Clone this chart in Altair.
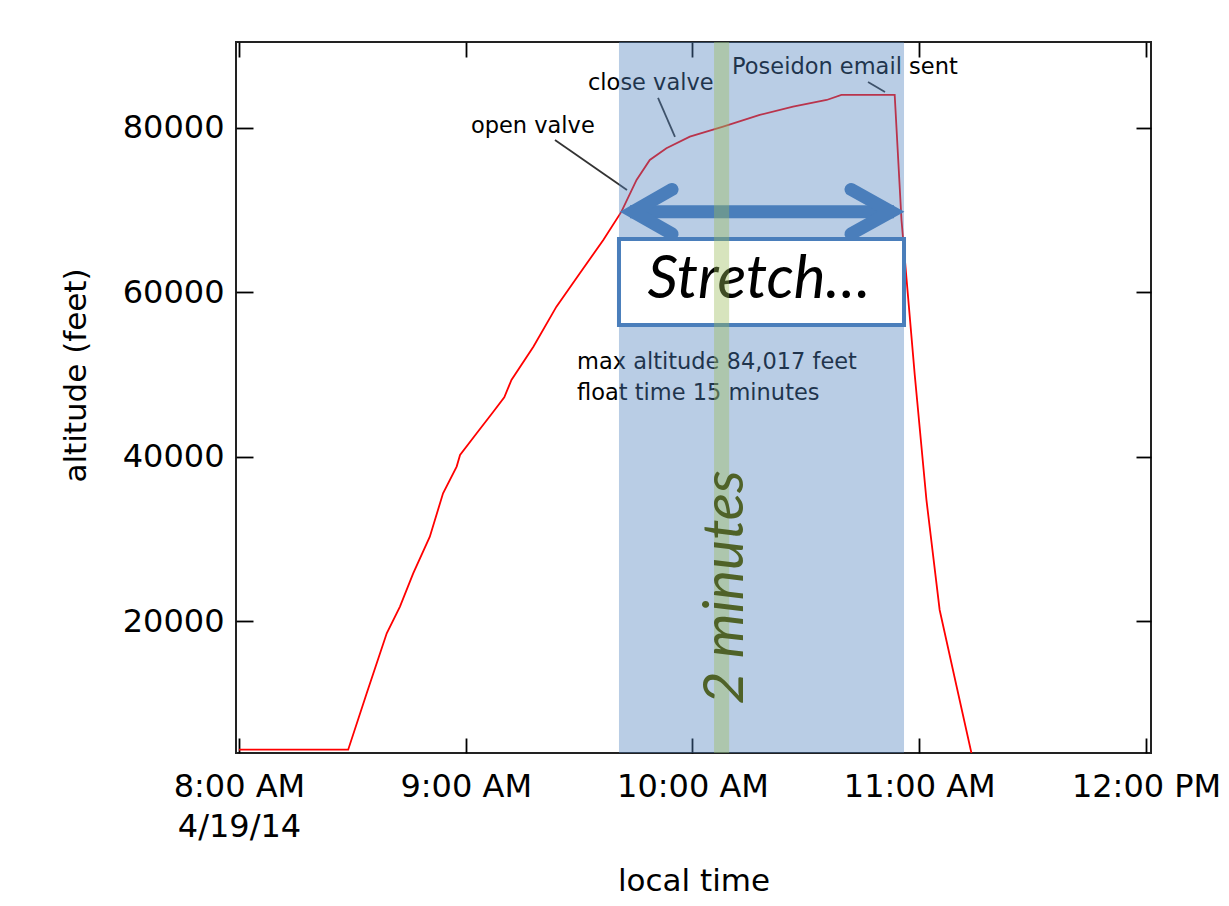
import altair as alt
import pandas as pd

DAY = "2014-04-19T"

# ---- balloon altitude trace (local time, feet) ----
line_time = ["08:00:00", "08:28:54", "08:33:48", "08:39:06", "08:42:36", "08:46:06",
             "08:50:30", "08:54:00", "08:57:36", "08:58:30", "09:02:54", "09:07:18",
             "09:10:12", "09:12:06", "09:17:54", "09:24:00", "09:30:12", "09:36:24",
             "09:41:12", "09:45:12", "09:48:42", "09:53:06", "09:59:18", "10:08:06",
             "10:17:48", "10:26:36", "10:35:30", "10:39:24", "10:53:30", "10:55:18",
             "10:58:48", "11:01:54", "11:05:24", "11:09:54", "11:13:48"]
line_alt = [4400, 4400, 11260, 18550, 21800, 25850,
            30300, 35580, 38820, 40240, 42880, 45500,
            47250, 49360, 53400, 58270, 62330, 66380,
            69820, 73680, 76110, 77530, 78940, 80160,
            81580, 82590, 83400, 84017, 84017, 68800,
            50000, 34770, 21390, 12060, 4000]

# ---- axes ----
x_start, x_end = "07:59:13", "12:01:19"
y_domain = [4000, 90450]
hour_ticks = [8, 9, 10, 11, 12]
y_ticks = [20000, 40000, 60000, 80000]

# ---- annotations ----
window_start, window_end = "09:40:33", "10:55:58"
green_start, green_end = "10:05:42", "10:09:42"

note_time = ["09:01:23", "09:32:21", "10:10:28", "09:29:26", "09:29:26"]
note_alt = [79392, 84620, 86565, 50699, 46930]
note_text = ["open valve", "close valve", "Poseidon email sent",
             "max altitude 84,017 feet", "float time 15 minutes"]

leader_t1 = ["09:23:37", "09:50:53", "10:46:27"]
leader_a1 = [78541, 83647, 85593]
leader_t2 = ["09:42:40", "09:55:22", "10:50:56"]
leader_a2 = [72462, 78906, 84377]

shaft_t = ["09:43:28", "10:53:19"]
shaft_alt = 69824
head_id = ["L", "L", "L", "R", "R", "R"]
head_time = ["09:54:35", "09:44:16", "09:54:35", "10:41:57", "10:52:32", "10:41:57"]
head_alt = [72523, 69824, 67125, 72523, 69824, 67125]

box_alt = [66505, 56049]
stretch_time, stretch_alt = "10:17:36", 59331
minutes_time, minutes_alt = "10:13:22", 24134


def ts(s):
    return DAY + s


def dt(s):
    h, m, sec = (int(v) for v in s.split(":"))
    return alt.DateTime(year=2014, month=4, date=19, hours=h, minutes=m, seconds=sec)


xs = alt.Scale(domain=[dt(x_start), dt(x_end)], nice=False)
ys = alt.Scale(domain=y_domain, nice=False, zero=False)

FONT = "DejaVu Sans"
tick_vals = [alt.DateTime(year=2014, month=4, date=19, hours=h) for h in hour_ticks]

line_df = pd.DataFrame({"t": [ts(s) for s in line_time], "alt": line_alt})

x_main = alt.Axis(
    orient="bottom", values=tick_vals, offset=-15, tickSize=15, domain=False, grid=False,
    labelExpr="hours(datum.value) == 8 ? [timeFormat(datum.value, '%-I:%M %p'), timeFormat(datum.value, '%-m/%-d/%y')] : timeFormat(datum.value, '%-I:%M %p')",
    labelPadding=18, labelFontSize=32, labelFont=FONT, labelColor="#000",
    labelLineHeight=40, labelFlush=False, labelOverlap=False,
    tickColor="#000", tickWidth=1.8,
    title="local time", titleFontSize=31, titleFont=FONT, titleFontWeight="normal",
    titleColor="#000", titleY=152, titleBaseline="alphabetic",
)
y_main = alt.Axis(
    orient="left", values=y_ticks, offset=-17, tickSize=17, domain=False, grid=False,
    format="d", labelPadding=12, labelFontSize=32, labelFont=FONT, labelColor="#000",
    tickColor="#000", tickWidth=1.8,
    title="altitude (feet)", titleFontSize=31, titleFont=FONT, titleFontWeight="normal",
    titleColor="#000", titleX=-168, titleY=333, titleBaseline="alphabetic",
)
x_mirror = alt.Axis(orient="top", values=tick_vals, offset=-15, tickSize=15, domain=False,
                    grid=False, labels=False, title=None, tickColor="#000", tickWidth=1.8)
y_mirror = alt.Axis(orient="right", values=y_ticks, offset=-15, tickSize=15, domain=False,
                    grid=False, labels=False, title=None, tickColor="#000", tickWidth=1.8)

line = alt.Chart(line_df).mark_line(color="#ff0000", strokeWidth=1.8, clip=True).encode(
    x=alt.X("t:T", scale=xs, axis=x_main),
    y=alt.Y("alt:Q", scale=ys, axis=y_main),
)
mirror = alt.Chart(line_df).mark_point(opacity=0).encode(
    x=alt.X("t:T", scale=xs, axis=x_mirror),
    y=alt.Y("alt:Q", scale=ys, axis=y_mirror),
)

notes_df = pd.DataFrame({"t": [ts(s) for s in note_time], "alt": note_alt, "label": note_text})
notes = alt.Chart(notes_df).mark_text(
    align="left", baseline="alphabetic", font=FONT, fontSize=22.5, color="#000"
).encode(
    x=alt.X("t:T", scale=xs, axis=None),
    y=alt.Y("alt:Q", scale=ys, axis=None),
    text="label:N",
)

lead_df = pd.DataFrame({"t1": [ts(s) for s in leader_t1], "a1": leader_a1,
                        "t2": [ts(s) for s in leader_t2], "a2": leader_a2})
leaders = alt.Chart(lead_df).mark_rule(color="#333", strokeWidth=1.8).encode(
    x=alt.X("t1:T", scale=xs, axis=None), y=alt.Y("a1:Q", scale=ys, axis=None),
    x2="t2:T", y2="a2:Q",
)

win_df = pd.DataFrame({"t1": [ts(window_start)], "t2": [ts(window_end)]})
window = alt.Chart(win_df).mark_rect(color="#4F81BD", opacity=0.4).encode(
    x=alt.X("t1:T", scale=xs, axis=None), x2="t2:T",
)

shaft_df = pd.DataFrame({"t1": [ts(shaft_t[0])], "t2": [ts(shaft_t[1])], "a": [shaft_alt]})
shaft = alt.Chart(shaft_df).mark_rule(color="#4A7EBB", strokeWidth=13, strokeCap="butt").encode(
    x=alt.X("t1:T", scale=xs, axis=None), x2="t2:T",
    y=alt.Y("a:Q", scale=ys, axis=None),
)
head_df = pd.DataFrame({"id": head_id, "t": [ts(s) for s in head_time], "alt": head_alt,
                        "ord": [0, 1, 2, 0, 1, 2]})
heads = alt.Chart(head_df).mark_line(color="#4A7EBB", strokeWidth=13, strokeCap="round",
                                     strokeJoin="miter").encode(
    x=alt.X("t:T", scale=xs, axis=None),
    y=alt.Y("alt:Q", scale=ys, axis=None),
    detail="id:N", order="ord:Q",
)

box_df = pd.DataFrame({"t1": [ts(window_start)], "t2": [ts(window_end)],
                       "a1": [box_alt[0]], "a2": [box_alt[1]]})
box = alt.Chart(box_df).mark_rect(fill="white", stroke="#4A7EBB", strokeWidth=4).encode(
    x=alt.X("t1:T", scale=xs, axis=None), x2="t2:T",
    y=alt.Y("a1:Q", scale=ys, axis=None), y2="a2:Q",
)
stretch_df = pd.DataFrame({"t": [ts(stretch_time)], "alt": [stretch_alt], "label": ["Stretch…"]})
stretch = alt.Chart(stretch_df).mark_text(
    font="Lato", fontStyle="italic", fontSize=60, color="#000",
    align="center", baseline="alphabetic",
).encode(
    x=alt.X("t:T", scale=xs, axis=None), y=alt.Y("alt:Q", scale=ys, axis=None), text="label:N",
)

green_df = pd.DataFrame({"t1": [ts(green_start)], "t2": [ts(green_end)]})
green = alt.Chart(green_df).mark_rect(color="#9BBB59", opacity=0.4).encode(
    x=alt.X("t1:T", scale=xs, axis=None), x2="t2:T",
)

minutes_df = pd.DataFrame({"t": [ts(minutes_time)], "alt": [minutes_alt], "label": ["2 minutes"]})
minutes = alt.Chart(minutes_df).mark_text(
    font="Lato", fontStyle="italic", fontSize=57, color="#4F6228",
    align="center", baseline="alphabetic", angle=270,
).encode(
    x=alt.X("t:T", scale=xs, axis=None), y=alt.Y("alt:Q", scale=ys, axis=None), text="label:N",
)

chart = alt.layer(
    line, mirror, notes, leaders, window, shaft, heads, box, stretch, green, minutes
).resolve_axis(x="independent", y="independent").properties(
    width=915, height=711,
    padding={"left": 228, "top": 34, "right": 70, "bottom": 144},
    autosize=alt.AutoSizeParams(type="none"),
    background="white",
).configure_view(stroke="#222", strokeWidth=2)

chart.save("out.html", embed_options={"renderer": "svg", "actions": False})
